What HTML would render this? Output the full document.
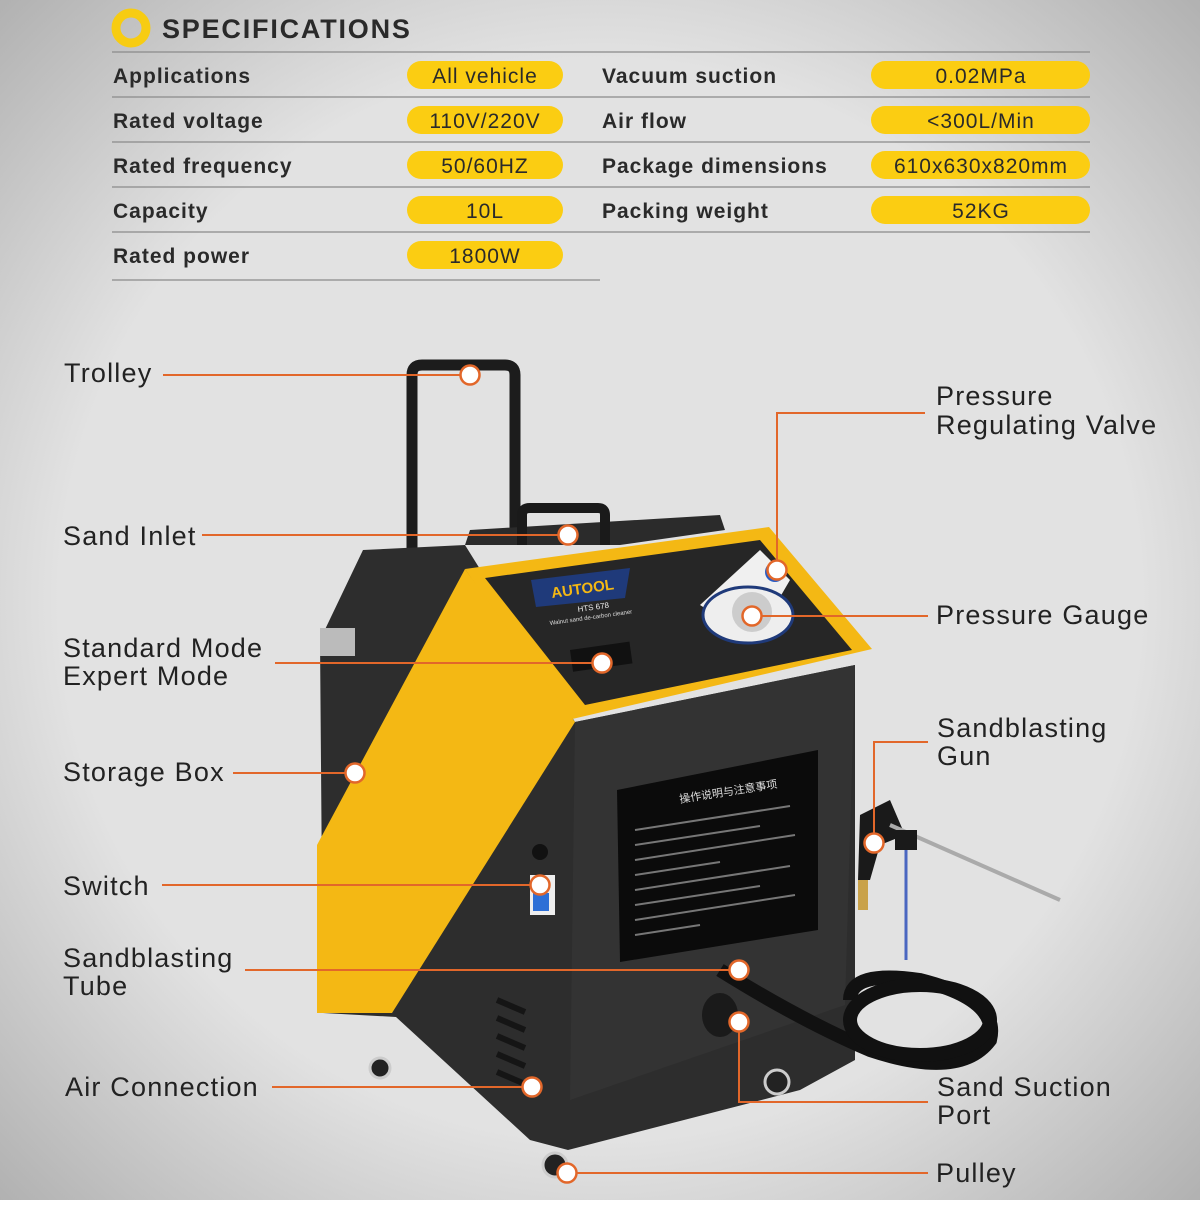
<!DOCTYPE html>
<html><head><meta charset="utf-8"><style>
body{margin:0;width:1200px;height:1200px;overflow:hidden;font-family:"Liberation Sans","Noto Sans CJK SC",sans-serif}
</style></head><body>
<svg width="1200" height="1200" viewBox="0 0 1200 1200" xmlns="http://www.w3.org/2000/svg" font-family="Liberation Sans, sans-serif">
<defs>
<radialGradient id="bg" cx="0.5" cy="0.5" r="0.75">
<stop offset="0.6" stop-color="#e2e2e2"/><stop offset="1" stop-color="#a9a9a9"/>
</radialGradient>
</defs>
<rect width="1200" height="1200" fill="url(#bg)"/>
<!-- specs header -->
<circle cx="131" cy="28" r="15" fill="none" stroke="#f7cc12" stroke-width="9"/>
<text x="162" y="38" font-size="27" font-weight="bold" fill="#2a2a2a" letter-spacing="1.8">SPECIFICATIONS</text>
<g stroke="#8a8a8a" stroke-width="1.3">
<line x1="112" y1="52" x2="1090" y2="52"/>
<line x1="112" y1="97" x2="1090" y2="97"/>
<line x1="112" y1="142" x2="1090" y2="142"/>
<line x1="112" y1="187" x2="1090" y2="187"/>
<line x1="112" y1="232" x2="1090" y2="232"/>
<line x1="112" y1="280" x2="600" y2="280"/>
</g>
<g font-size="21" font-weight="bold" fill="#2a2a2a" letter-spacing="1">
<text x="113" y="83">Applications</text>
<text x="113" y="128">Rated voltage</text>
<text x="113" y="173">Rated frequency</text>
<text x="113" y="218">Capacity</text>
<text x="113" y="263">Rated power</text>
<text x="602" y="83">Vacuum suction</text>
<text x="602" y="128">Air flow</text>
<text x="602" y="173">Package dimensions</text>
<text x="602" y="218">Packing weight</text>
</g>
<g fill="#fbcd12">
<rect x="407" y="61" width="156" height="28" rx="14"/>
<rect x="407" y="106" width="156" height="28" rx="14"/>
<rect x="407" y="151" width="156" height="28" rx="14"/>
<rect x="407" y="196" width="156" height="28" rx="14"/>
<rect x="407" y="241" width="156" height="28" rx="14"/>
<rect x="871" y="61" width="219" height="28" rx="14"/>
<rect x="871" y="106" width="219" height="28" rx="14"/>
<rect x="871" y="151" width="219" height="28" rx="14"/>
<rect x="871" y="196" width="219" height="28" rx="14"/>
</g>
<g font-size="21" fill="#2a2a2a" text-anchor="middle" letter-spacing="1">
<text x="485" y="83">All vehicle</text>
<text x="485" y="128">110V/220V</text>
<text x="485" y="173">50/60HZ</text>
<text x="485" y="218">10L</text>
<text x="485" y="263">1800W</text>
<text x="981" y="83">0.02MPa</text>
<text x="981" y="128">&lt;300L/Min</text>
<text x="981" y="173">610x630x820mm</text>
<text x="981" y="218">52KG</text>
</g>

<!-- machine -->
<path d="M412 560 V375 Q412 365 422 365 H505 Q515 365 515 375 V540" fill="none" stroke="#1c1c1c" stroke-width="11"/>
<polygon points="465,545 470,530 720,515 725,530 620,545" fill="#2b2b2b"/>
<path d="M522 545 V515 Q522 508 530 508 H598 Q605 508 605 515 V545" fill="none" stroke="#1a1a1a" stroke-width="10"/>
<polygon points="363,550 465,545 575,722 855,665 855,1060 800,1090 568,1150 530,1140 396,1017 323,1013 320,640" fill="#2d2d2d"/>
<polygon points="575,722 855,665 845,1005 570,1100" fill="#333"/>
<polygon points="465,569 769,527 872,649 568,720" fill="#f4b814"/>
<polygon points="485,578 760,540 852,650 585,705" fill="#262626"/>
<polygon points="465,569 575,722 392,1013 317,1013 317,845" fill="#f4b814"/>
<polygon points="531,580 630,568 625,598 536,607" fill="#1f3a7a"/>
<text x="552" y="598" font-size="15" font-weight="bold" fill="#f4b814" transform="rotate(-8 552 598)">AUTOOL</text>
<text x="578" y="612" font-size="8" fill="#eee" transform="rotate(-8 578 612)">HTS 678</text>
<text x="550" y="625" font-size="6" fill="#ddd" transform="rotate(-8 550 625)">Walnut sand de-carbon cleaner</text>
<rect x="570" y="650" width="60" height="22" fill="#111" transform="rotate(-8 570 650)"/>
<polygon points="700,605 760,550 790,580 755,640" fill="#f0f0f0"/>
<ellipse cx="748" cy="615" rx="45" ry="28" fill="#eee" stroke="#1f3a7a" stroke-width="3"/>
<circle cx="752" cy="612" r="20" fill="#ccc"/>
<circle cx="775" cy="572" r="10" fill="#2a5cc2"/>
<polygon points="617,790 818,750 818,930 620,962" fill="#0b0b0b"/>
<text x="680" y="803" font-size="11" fill="#ddd" font-family="Noto Sans CJK SC, sans-serif" transform="rotate(-9 680 803)">操作说明与注意事项</text>
<g stroke="#777" stroke-width="2">
<line x1="635" y1="830" x2="790" y2="806"/><line x1="635" y1="845" x2="760" y2="826"/>
<line x1="635" y1="860" x2="795" y2="835"/><line x1="635" y1="875" x2="720" y2="862"/>
<line x1="635" y1="890" x2="790" y2="866"/><line x1="635" y1="905" x2="760" y2="886"/>
<line x1="635" y1="920" x2="795" y2="895"/><line x1="635" y1="935" x2="700" y2="925"/>
</g>
<rect x="530" y="875" width="25" height="40" fill="#eee"/>
<rect x="533" y="893" width="16" height="18" fill="#2d6fd6"/>
<circle cx="540" cy="852" r="8" fill="#111"/>
<g stroke="#151515" stroke-width="6"><line x1="497" y1="1000" x2="525" y2="1012"/><line x1="497" y1="1018" x2="525" y2="1030"/><line x1="497" y1="1036" x2="525" y2="1048"/><line x1="497" y1="1054" x2="525" y2="1066"/><line x1="497" y1="1072" x2="525" y2="1084"/></g>
<ellipse cx="720" cy="1015" rx="18" ry="22" fill="#1a1a1a"/>
<g fill="none" stroke="#111" stroke-width="14">
<path d="M720 970 Q800 1020 870 1050 Q960 1080 990 1040 Q1000 1000 920 980 Q850 970 850 1000"/>
<ellipse cx="920" cy="1020" rx="70" ry="35"/>
</g>
<path d="M860 815 L890 800 L905 835 L880 845 L870 880 L858 880 Z" fill="#1a1a1a"/>
<rect x="858" y="880" width="10" height="30" fill="#c9a24a"/>
<line x1="890" y1="825" x2="1060" y2="900" stroke="#aaa" stroke-width="4"/>
<rect x="895" y="830" width="22" height="20" fill="#1a1a1a"/>
<line x1="906" y1="850" x2="906" y2="960" stroke="#4a66c0" stroke-width="3"/>
<g fill="#222" stroke="#ccc" stroke-width="3">
<circle cx="380" cy="1068" r="10"/><circle cx="777" cy="1082" r="12"/><circle cx="555" cy="1165" r="12"/>
</g>
<rect x="320" y="628" width="35" height="28" fill="#bbb"/>

<g stroke="#e2672a" stroke-width="2" fill="none">
<line x1="163" y1="375" x2="470" y2="375"/>
<polyline points="925,413 777,413 777,570"/>
<line x1="202" y1="535" x2="568" y2="535"/>
<line x1="752" y1="616" x2="928" y2="616"/>
<polyline points="275,663 602,663"/>
<polyline points="928,742 874,742 874,843"/>
<line x1="233" y1="773" x2="355" y2="773"/>
<line x1="162" y1="885" x2="540" y2="885"/>
<polyline points="245,970 739,970"/>
<polyline points="739,1022 739,1102 928,1102"/>
<line x1="272" y1="1087" x2="532" y2="1087"/>
<line x1="567" y1="1173" x2="928" y2="1173"/>
</g>
<g fill="#fff" stroke="#e2672a" stroke-width="2.5">
<circle cx="470" cy="375" r="9.5"/><circle cx="777" cy="570" r="9.5"/><circle cx="568" cy="535" r="9.5"/>
<circle cx="752" cy="616" r="9.5"/><circle cx="602" cy="663" r="9.5"/><circle cx="874" cy="843" r="9.5"/>
<circle cx="355" cy="773" r="9.5"/><circle cx="540" cy="885" r="9.5"/><circle cx="739" cy="970" r="9.5"/>
<circle cx="739" cy="1022" r="9.5"/><circle cx="532" cy="1087" r="9.5"/><circle cx="567" cy="1173" r="9.5"/>
</g>
<g font-size="27" fill="#222" letter-spacing="1.2">
<text x="64" y="382">Trolley</text>
<text x="63" y="545">Sand Inlet</text>
<text x="63" y="657">Standard Mode</text>
<text x="63" y="685">Expert Mode</text>
<text x="63" y="781">Storage Box</text>
<text x="63" y="895">Switch</text>
<text x="63" y="967">Sandblasting</text>
<text x="63" y="995">Tube</text>
<text x="65" y="1096">Air Connection</text>
<text x="936" y="405">Pressure</text>
<text x="936" y="434">Regulating Valve</text>
<text x="936" y="624">Pressure Gauge</text>
<text x="937" y="737">Sandblasting</text>
<text x="937" y="765">Gun</text>
<text x="937" y="1096">Sand Suction</text>
<text x="937" y="1124">Port</text>
<text x="936" y="1182">Pulley</text>
</g>
</svg>
</body></html>
